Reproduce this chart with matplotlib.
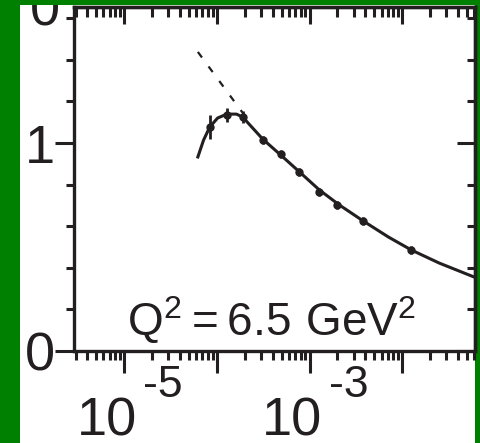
import numpy as np
import matplotlib.pyplot as plt
from matplotlib.patches import Rectangle
from matplotlib.ticker import FixedLocator, LogLocator, NullFormatter

plt.rcParams['font.family'] = ['Liberation Sans', 'DejaVu Sans']
plt.rcParams['mathtext.fontset'] = 'custom'
plt.rcParams['mathtext.rm'] = 'Liberation Sans'
plt.rcParams['lines.scale_dashes'] = False

INK = '#231f20'
GREEN = '#008000'

# data points (x, F2-like value)
px = [8.4e-5, 1.28e-4, 1.9e-4, 3.13e-4, 4.88e-4, 7.8e-4, 1.28e-3, 2.0e-3, 3.81e-3, 1.25e-2]
py = [1.077, 1.135, 1.125, 1.014, 0.947, 0.861, 0.764, 0.702, 0.625, 0.486]
perr = [0.06, 0.035, 0.03, 0.02, 0.02, 0.02, 0.02, 0.02, 0.02, 0.02]

# solid fit curve
cx = [6.25e-5, 7.2e-5, 8.4e-5, 1.02e-4, 1.28e-4, 1.63e-4, 1.9e-4, 3.13e-4, 4.9e-4,
      7.8e-4, 1.28e-3, 2.1e-3, 3.8e-3, 7.1e-3, 1.25e-2, 2.5e-2, 5.94e-2]
cy = [0.933, 1.014, 1.077, 1.120, 1.139, 1.139, 1.125, 1.019, 0.942, 0.861,
      0.774, 0.702, 0.625, 0.548, 0.486, 0.423, 0.356]

# dashed extrapolation
dx = [6.25e-5, 2.0e-4]
dy = [1.438, 1.132]

fig = plt.figure(figsize=(4.8, 4.43), dpi=100, facecolor=GREEN)
W, H = 480, 443
fig.patches.append(Rectangle((20 / W, 0), 455 / W, (H - 5) / H,
                             transform=fig.transFigure, facecolor='white',
                             edgecolor='none', zorder=-10))

ax = fig.add_axes([74 / W, (H - 351) / H, 401 / W, 344 / H])
ax.set_facecolor('white')
ax.set_xscale('log')
ax.set_xlim(10 ** -5.54, 10 ** -1.215)
ax.set_ylim(0, 1.654)

ax.plot(dx, dy, color=INK, lw=1.6, dashes=(5, 8))
ax.plot(cx, cy, color=INK, lw=2.2)
ax.errorbar(px, py, yerr=perr, fmt='o', ms=5, color=INK, elinewidth=2, capsize=0)

for s in ax.spines.values():
    s.set_linewidth(2.4)
    s.set_color(INK)

ax.xaxis.set_major_locator(LogLocator(base=10, numticks=20))
ax.xaxis.set_minor_locator(LogLocator(base=10, subs=np.arange(2, 10), numticks=20))
ax.xaxis.set_major_formatter(NullFormatter())
ax.xaxis.set_minor_formatter(NullFormatter())
ax.tick_params(axis='x', which='major', direction='out', length=16, width=2.2,
               color=INK, top=False)
ax.tick_params(axis='x', which='minor', direction='out', length=6.5, width=2.2,
               color=INK, top=False)

ax.yaxis.set_major_locator(FixedLocator([0, 1]))
ax.yaxis.set_minor_locator(FixedLocator([0.2, 0.4, 0.6, 0.8, 1.2, 1.4, 1.6]))
ax.set_yticklabels(['0', '1'])
ax.tick_params(axis='y', which='major', direction='out', length=14, width=2.2,
               color=INK, right=False, labelsize=39, labelcolor=INK, pad=0)
ax.tick_params(axis='y', which='minor', direction='out', length=6, width=2.2,
               color=INK, right=False)

top = ax.secondary_xaxis('top')
top.xaxis.set_major_locator(LogLocator(base=10, numticks=20))
top.xaxis.set_minor_locator(LogLocator(base=10, subs=np.arange(2, 10), numticks=20))
top.xaxis.set_major_formatter(NullFormatter())
top.xaxis.set_minor_formatter(NullFormatter())
top.tick_params(which='major', direction='in', length=12, width=2.2, color=INK)
top.tick_params(which='minor', direction='in', length=7, width=2.2, color=INK)
top.spines['top'].set_linewidth(2.4)
top.spines['top'].set_color(INK)

right = ax.secondary_yaxis('right')
right.yaxis.set_major_locator(FixedLocator([0, 1]))
right.yaxis.set_minor_locator(FixedLocator([0.2, 0.4, 0.6, 0.8, 1.2, 1.4, 1.6]))
right.yaxis.set_major_formatter(NullFormatter())
right.tick_params(which='major', direction='in', length=13, width=2.2, color=INK)
right.tick_params(which='minor', direction='in', length=6, width=2.2, color=INK)
right.spines['right'].set_linewidth(2.4)
right.spines['right'].set_color(INK)

# x tick labels: "10" with raised exponent
for exp in [-5, -3]:
    ax.annotate('10', xy=(10.0 ** exp, 0), xycoords=('data', 'axes fraction'),
                xytext=(-12.6, -61), textcoords='offset points',
                ha='center', va='baseline', fontsize=39, color=INK)
    ax.annotate(f'-{-exp}', xy=(10.0 ** exp, 0), xycoords=('data', 'axes fraction'),
                xytext=(28, -33), textcoords='offset points',
                ha='center', va='baseline', fontsize=32, color=INK)

ax.text(0.132, 0.0465, r'$\mathregular{Q^2 = 6.5\ GeV^2}$', transform=ax.transAxes,
        ha='left', va='baseline', fontsize=33, color=INK)

# cut-off label of the panel above
fig.text(45 / W, (H - 25) / H, '0', ha='center', va='baseline', fontsize=39,
         color=INK, zorder=1)
fig.patches.append(Rectangle((0, (H - 5) / H), 1, 5 / H, transform=fig.transFigure,
                             facecolor=GREEN, edgecolor='none', zorder=5))

fig.savefig('out.png', dpi=100, facecolor=GREEN)
